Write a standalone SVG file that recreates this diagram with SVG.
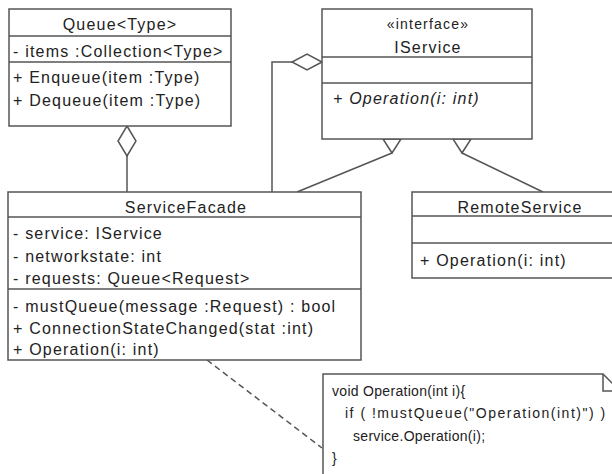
<svg xmlns="http://www.w3.org/2000/svg" width="612" height="474" viewBox="0 0 612 474">
<style>
.box{fill:#fff;stroke:#555;stroke-width:1.5}
.ln{stroke:#555;stroke-width:1.5;fill:none}
.hd{fill:#fff;stroke:#555;stroke-width:1.5}
text{font-family:"Liberation Sans",Arial,sans-serif;font-size:16px;letter-spacing:1.2px;fill:#222}
.c{text-anchor:middle}
.it{font-style:italic}
.st{font-size:14px}
.nt{font-size:14px;letter-spacing:0.3px}
.dash{stroke:#555;stroke-width:1.5;fill:none;stroke-dasharray:6 4}
</style>
<rect width="612" height="474" fill="#fff"/>
<g id="connectors">
<polyline class="ln" points="127,156 127,192"/>
<polyline class="ln" points="292,62 272,62 272,192"/>
<line class="ln" x1="297" y1="192" x2="392" y2="153"/>
<line class="ln" x1="543" y1="192" x2="462" y2="153"/>
<line class="dash" x1="207" y1="360" x2="322" y2="448"/>
<polygon class="hd" points="127,126 136,141 127,156 118,141"/>
<polygon class="hd" points="322,62 307,70 292,62 307,54"/>
<polygon class="hd" points="383,139 401,139 392,153"/>
<polygon class="hd" points="453,139 471,139 462,153"/>
</g>
<g id="queue">
<rect class="box" x="9" y="9" width="222" height="117"/>
<line class="ln" x1="9" y1="36" x2="231" y2="36"/>
<line class="ln" x1="9" y1="62" x2="231" y2="62"/>
<text class="c" x="120" y="30">Queue&lt;Type&gt;</text>
<text x="13" y="57">- items :Collection&lt;Type&gt;</text>
<text x="13" y="83">+ Enqueue(item :Type)</text>
<text x="13" y="106">+ Dequeue(item :Type)</text>
</g>
<g id="iservice">
<rect class="box" x="322" y="9" width="210" height="130"/>
<line class="ln" x1="322" y1="57" x2="532" y2="57"/>
<line class="ln" x1="322" y1="83" x2="532" y2="83"/>
<text class="c st" x="428" y="29">«interface»</text>
<text class="c" x="428" y="53">IService</text>
<text class="it" x="333" y="104">+ Operation(i: int)</text>
</g>
<g id="servicefacade">
<rect class="box" x="8" y="192" width="353" height="168"/>
<line class="ln" x1="8" y1="217" x2="361" y2="217"/>
<line class="ln" x1="8" y1="289" x2="361" y2="289"/>
<text class="c" x="186" y="213">ServiceFacade</text>
<text x="13" y="239">- service: IService</text>
<text x="13" y="262">- networkstate: int</text>
<text x="13" y="284">- requests: Queue&lt;Request&gt;</text>
<text x="13" y="312">- mustQueue(message :Request) : bool</text>
<text x="13" y="334">+ ConnectionStateChanged(stat :int)</text>
<text x="13" y="355">+ Operation(i: int)</text>
</g>
<g id="remoteservice">
<rect class="box" x="412" y="192" width="220" height="86"/>
<line class="ln" x1="412" y1="216" x2="632" y2="216"/>
<line class="ln" x1="412" y1="243" x2="632" y2="243"/>
<text class="c" x="520" y="213">RemoteService</text>
<text x="420" y="266">+ Operation(i: int)</text>
</g>
<g id="note">
<path class="box" d="M323,480 V374 H603 L620,391 V480 Z"/>
<path class="ln" d="M603,374 V391 H620"/>
<text class="nt" x="332" y="396">void Operation(int i){</text>
<text class="nt" x="345" y="418" style="letter-spacing:1.5px">if ( !mustQueue("Operation(int)") )</text>
<text class="nt" x="353" y="441">service.Operation(i);</text>
<text class="nt" x="332" y="463">}</text>
</g>
</svg>
